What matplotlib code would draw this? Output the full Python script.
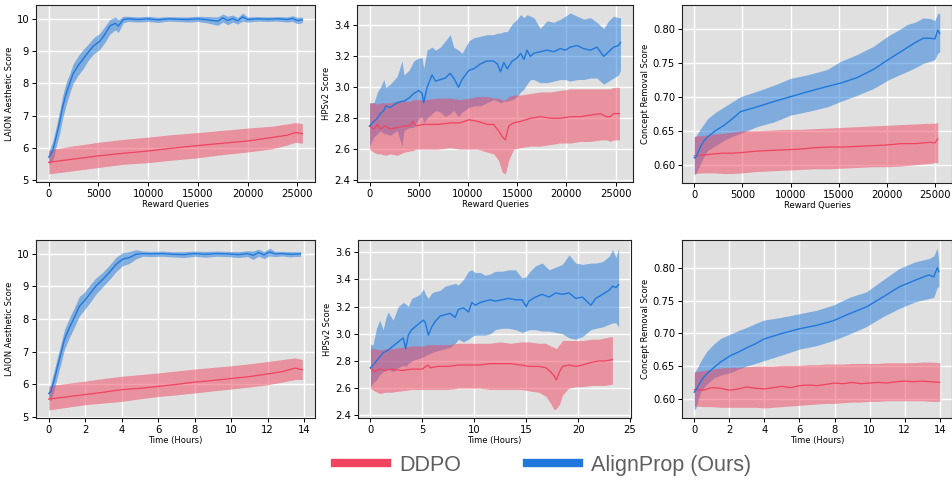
import matplotlib
matplotlib.use('Agg')
import matplotlib.pyplot as plt
from matplotlib.lines import Line2D
import numpy as np

# ---- panel 1: LAION aesthetic vs reward queries
p1_ap_x = [0, 400, 750, 1100, 1400, 1750, 2100, 2450, 2950, 3450, 3950, 4500, 5150, 5650, 6150, 6700, 7000,
           7500, 8000, 9000, 10000, 11000, 12000, 13000, 14000, 15000, 16000, 17000, 17500, 18000, 18500,
           19000, 19500, 20000, 21000, 22000, 23000, 24000, 24500, 25000, 25500]
p1_ap_mean = [5.72, 5.90, 6.35, 6.80, 7.27, 7.68, 7.99, 8.30, 8.55, 8.75, 8.96, 9.16, 9.31, 9.52, 9.78, 9.86, 9.78,
              9.98, 10.00, 9.98, 10.00, 9.97, 10.00, 9.99, 9.98, 10.00, 9.97, 9.93, 10.03, 9.95, 10.01,
              9.94, 10.06, 9.98, 10.00, 9.99, 10.00, 9.98, 10.01, 9.95, 9.97]
p1_ap_lo = [5.50, 5.60, 6.05, 6.45, 6.92, 7.33, 7.69, 8.00, 8.25, 8.45, 8.71, 8.91, 9.06, 9.27, 9.53, 9.66, 9.58,
            9.88, 9.92, 9.90, 9.92, 9.89, 9.93, 9.92, 9.90, 9.92, 9.87, 9.80, 9.90, 9.82, 9.90,
            9.84, 9.93, 9.90, 9.93, 9.92, 9.93, 9.90, 9.92, 9.85, 9.88]
p1_ap_hi = [5.90, 6.20, 6.65, 7.15, 7.62, 8.03, 8.29, 8.60, 8.85, 9.05, 9.21, 9.41, 9.56, 9.77, 9.98, 10.06, 9.98,
            10.08, 10.08, 10.06, 10.08, 10.05, 10.07, 10.06, 10.06, 10.08, 10.07, 10.06, 10.15, 10.08, 10.12,
            10.04, 10.18, 10.06, 10.07, 10.06, 10.07, 10.06, 10.10, 10.05, 10.06]
p1_dd_x = [0, 2500, 5000, 7500, 10000, 12500, 15000, 17500, 20000, 22500, 24000, 24800, 25500]
p1_dd_mean = [5.56, 5.66, 5.76, 5.84, 5.91, 6.00, 6.08, 6.15, 6.22, 6.33, 6.40, 6.48, 6.45]
p1_dd_lo = [5.20, 5.30, 5.40, 5.50, 5.55, 5.63, 5.70, 5.80, 5.88, 5.98, 6.10, 6.18, 6.15]
p1_dd_hi = [5.94, 6.07, 6.18, 6.27, 6.34, 6.42, 6.48, 6.55, 6.62, 6.68, 6.75, 6.79, 6.76]

# ---- panel 2: HPSv2 vs reward queries
p2_ap_x = [0, 450, 800, 1100, 1450, 1650, 2100, 2800, 3300, 3500, 4000, 4500, 5000, 5350, 5500, 5850, 6350,
           6700, 7200, 7700, 8200, 8550, 9050, 9400, 10100, 10600, 11250, 11900, 12600, 13000, 13300, 13650,
           14000, 14500, 15000, 15350, 15700, 16000, 16350, 16700, 17350, 18050, 18700, 19400, 19900, 20400,
           21100, 21750, 22450, 23100, 23800, 24300, 24800, 25300, 25500]
p2_ap_mean = [2.75, 2.78, 2.80, 2.83, 2.85, 2.88, 2.87, 2.90, 2.91, 2.91, 2.93, 2.96, 2.98, 2.96, 2.90, 3.00, 3.08,
              3.04, 3.05, 3.06, 3.09, 3.06, 3.00, 3.05, 3.11, 3.12, 3.15, 3.17, 3.17, 3.15, 3.10, 3.16,
              3.12, 3.17, 3.19, 3.22, 3.18, 3.24, 3.20, 3.22, 3.23, 3.24, 3.23, 3.25, 3.24, 3.26,
              3.27, 3.25, 3.24, 3.26, 3.20, 3.23, 3.26, 3.27, 3.29]
p2_ap_lo = [2.62, 2.68, 2.70, 2.72, 2.70, 2.70, 2.69, 2.72, 2.62, 2.72, 2.74, 2.74, 2.80, 2.81, 2.77, 2.80, 2.83,
            2.85, 2.84, 2.81, 2.83, 2.85, 2.81, 2.84, 2.87, 2.88, 2.88, 2.90, 2.92, 2.91, 2.90, 2.91,
            2.91, 2.92, 2.94, 2.97, 2.99, 3.02, 3.05, 3.05, 3.03, 3.03, 3.04, 3.05, 3.05, 3.04,
            3.05, 3.05, 3.06, 3.06, 3.02, 3.04, 3.06, 3.08, 3.11]
p2_ap_hi = [2.90, 2.90, 2.97, 3.00, 3.05, 3.00, 3.02, 3.07, 3.17, 3.08, 3.11, 3.17, 3.19, 3.19, 3.12, 3.24, 3.26,
            3.24, 3.26, 3.30, 3.34, 3.26, 3.24, 3.22, 3.30, 3.32, 3.33, 3.34, 3.34, 3.35, 3.35, 3.36,
            3.36, 3.41, 3.44, 3.47, 3.45, 3.47, 3.46, 3.45, 3.38, 3.43, 3.42, 3.44, 3.46, 3.48,
            3.46, 3.44, 3.45, 3.42, 3.38, 3.43, 3.46, 3.45, 3.45]
p2_dd_x = [0, 450, 800, 1100, 1600, 2100, 2800, 3500, 4200, 4400, 4700, 5500, 7000, 8200, 9200, 10100, 11000,
           12000, 12600, 13100, 13500, 13800, 14150, 14650, 15350, 16350, 17350, 18400, 19400, 20400, 21400,
           22400, 23450, 24100, 24450, 24800, 25150, 25400]
p2_dd_mean = [2.75, 2.73, 2.76, 2.73, 2.75, 2.73, 2.74, 2.75, 2.75, 2.78, 2.75, 2.76, 2.76, 2.77, 2.77, 2.79, 2.78,
              2.76, 2.76, 2.72, 2.68, 2.66, 2.75, 2.77, 2.78, 2.80, 2.81, 2.80, 2.80, 2.81, 2.81,
              2.82, 2.83, 2.81, 2.81, 2.83, 2.83, 2.83]
p2_dd_lo = [2.60, 2.58, 2.57, 2.57, 2.56, 2.57, 2.56, 2.58, 2.59, 2.59, 2.60, 2.60, 2.60, 2.61, 2.60, 2.60, 2.60,
            2.58, 2.57, 2.53, 2.45, 2.44, 2.53, 2.60, 2.61, 2.62, 2.62, 2.63, 2.64, 2.64, 2.65,
            2.65, 2.66, 2.66, 2.65, 2.66, 2.66, 2.66]
p2_dd_hi = [2.90, 2.90, 2.89, 2.90, 2.90, 2.90, 2.91, 2.91, 2.91, 2.92, 2.92, 2.92, 2.93, 2.93, 2.92, 2.93, 2.94,
            2.94, 2.93, 2.93, 2.92, 2.92, 2.94, 2.95, 2.95, 2.96, 2.97, 2.97, 2.98, 2.99, 2.99,
            2.99, 2.99, 2.99, 2.99, 3.00, 3.00, 3.00]

# ---- panel 3: concept removal vs reward queries
p3_ap_x = [0, 170, 600, 1000, 1400, 2200, 3100, 4000, 4800, 6500, 8300, 10000, 11700, 13800, 15200, 16900,
           18600, 20200, 21100, 22100, 23000, 23800, 24500, 25000, 25300, 25500]
p3_ap_mean = [0.610, 0.611, 0.625, 0.635, 0.641, 0.650, 0.658, 0.668, 0.678, 0.685, 0.693, 0.700, 0.707, 0.715,
              0.720, 0.728, 0.740, 0.755, 0.763, 0.772, 0.780, 0.786, 0.786, 0.785, 0.798, 0.793]
p3_ap_lo = [0.585, 0.587, 0.600, 0.612, 0.621, 0.628, 0.636, 0.642, 0.646, 0.656, 0.663, 0.673, 0.678, 0.685,
            0.693, 0.702, 0.712, 0.725, 0.731, 0.737, 0.743, 0.749, 0.752, 0.755, 0.764, 0.766]
p3_ap_hi = [0.640, 0.642, 0.652, 0.660, 0.668, 0.677, 0.685, 0.693, 0.700, 0.708, 0.717, 0.727, 0.732, 0.740,
            0.752, 0.762, 0.774, 0.790, 0.797, 0.806, 0.810, 0.816, 0.815, 0.812, 0.823, 0.822]
p3_dd_x = [0, 1000, 2000, 3000, 4000, 5000, 6500, 8000, 9500, 11000, 12500, 14000, 15500, 17000, 18500,
           20000, 21500, 23000, 24500, 25000, 25300]
p3_dd_mean = [0.613, 0.614, 0.616, 0.617, 0.617, 0.618, 0.620, 0.621, 0.622, 0.623, 0.625, 0.626, 0.626, 0.627,
              0.628, 0.629, 0.631, 0.631, 0.633, 0.632, 0.638]
p3_dd_lo = [0.587, 0.588, 0.588, 0.587, 0.587, 0.588, 0.590, 0.591, 0.592, 0.593, 0.594, 0.594, 0.595, 0.596,
            0.597, 0.597, 0.598, 0.600, 0.602, 0.603, 0.603]
p3_dd_hi = [0.642, 0.643, 0.645, 0.646, 0.648, 0.650, 0.650, 0.651, 0.652, 0.652, 0.653, 0.654, 0.655, 0.656,
            0.657, 0.658, 0.659, 0.660, 0.661, 0.661, 0.662]

# ---- panel 4: LAION aesthetic vs time
p4_ap_x = [0, 0.13, 0.31, 0.49, 0.68, 0.86, 1.13, 1.4, 1.68, 1.95, 2.23, 2.59, 2.96, 3.32, 3.69, 4.05, 4.42, 4.78,
           5.15, 5.6, 6.2, 6.8, 7.4, 8.0, 8.6, 9.2, 9.8, 10.4, 10.9, 11.2, 11.5, 11.8, 12.1, 12.4, 12.8, 13.2, 13.8]
p4_ap_mean = [5.72, 5.79, 6.15, 6.56, 6.96, 7.37, 7.73, 8.04, 8.39, 8.55, 8.75, 9.01, 9.21, 9.42, 9.67, 9.83, 9.88,
              9.98, 10.0, 9.99, 10.0, 9.98, 9.97, 10.0, 9.98, 10.0, 9.99, 9.97, 10.0, 9.95, 10.03, 9.96, 10.05,
              9.99, 10.0, 9.98, 9.99]
p4_ap_lo = [5.55, 5.50, 5.85, 6.26, 6.66, 7.07, 7.43, 7.74, 8.09, 8.28, 8.48, 8.76, 8.99, 9.20, 9.45, 9.63, 9.70,
            9.84, 9.92, 9.91, 9.92, 9.90, 9.88, 9.92, 9.89, 9.92, 9.91, 9.88, 9.91, 9.82, 9.92, 9.85, 9.93,
            9.91, 9.93, 9.90, 9.92]
p4_ap_hi = [5.85, 6.05, 6.45, 6.86, 7.26, 7.67, 8.03, 8.34, 8.69, 8.82, 9.02, 9.26, 9.43, 9.64, 9.89, 10.03, 10.06,
            10.12, 10.08, 10.07, 10.08, 10.06, 10.06, 10.08, 10.07, 10.08, 10.07, 10.06, 10.09, 10.08, 10.14,
            10.06, 10.17, 10.07, 10.07, 10.06, 10.06]
p4_dd_x = [0, 1, 2, 3, 4, 5, 6, 7, 8, 9, 10, 11, 12, 12.8, 13.5, 13.9]
p4_dd_mean = [5.55, 5.62, 5.69, 5.76, 5.84, 5.88, 5.94, 6.00, 6.07, 6.12, 6.18, 6.24, 6.32, 6.39, 6.50, 6.45]
p4_dd_lo = [5.22, 5.30, 5.38, 5.43, 5.48, 5.56, 5.63, 5.68, 5.74, 5.80, 5.86, 5.92, 5.99, 6.07, 6.15, 6.15]
p4_dd_hi = [5.96, 6.03, 6.10, 6.18, 6.25, 6.30, 6.35, 6.41, 6.47, 6.52, 6.57, 6.63, 6.70, 6.76, 6.81, 6.76]

# ---- panel 5: HPSv2 vs time
p5_ap_x = [0, 0.26, 0.58, 0.9, 1.23, 1.5, 1.71, 2.19, 2.68, 3.16, 3.39, 3.65, 3.97, 4.29, 4.77, 5.1, 5.3, 5.58,
           5.9, 6.23, 6.71, 7.19, 7.68, 8.16, 8.48, 8.97, 9.45, 9.77, 10.1, 10.58, 11.06, 11.55, 12.03, 12.68,
           13.32, 13.97, 14.6, 15.0, 15.26, 15.9, 16.55, 17.2, 17.84, 18.48, 19.13, 19.77, 20.42, 21.23, 21.7,
           22.35, 23.0, 23.32, 23.65, 23.9]
p5_ap_mean = [2.75, 2.77, 2.80, 2.83, 2.86, 2.87, 2.88, 2.91, 2.94, 2.97, 2.89, 2.99, 3.03, 3.05, 3.08, 3.10, 3.08,
              2.99, 3.05, 3.09, 3.13, 3.14, 3.15, 3.12, 3.18, 3.19, 3.16, 3.23, 3.21, 3.23, 3.24, 3.25, 3.24,
              3.25, 3.26, 3.25, 3.25, 3.20, 3.24, 3.27, 3.29, 3.27, 3.30, 3.29, 3.30, 3.26, 3.27, 3.21, 3.26,
              3.29, 3.32, 3.35, 3.34, 3.36]
p5_ap_lo = [2.61, 2.64, 2.66, 2.70, 2.72, 2.73, 2.74, 2.72, 2.75, 2.77, 2.76, 2.78, 2.80, 2.81, 2.82, 2.83, 2.84,
            2.85, 2.86, 2.87, 2.88, 2.89, 2.90, 2.93, 2.96, 2.94, 2.96, 2.98, 2.99, 2.99, 2.99, 3.00, 3.03,
            3.04, 3.04, 3.03, 3.01, 3.02, 3.03, 3.03, 3.02, 3.02, 3.01, 3.00, 2.97, 2.96, 2.98, 3.03, 3.04,
            3.05, 3.07, 3.08, 3.08, 3.05]
p5_ap_hi = [2.92, 2.92, 3.04, 3.10, 3.03, 3.12, 3.16, 3.10, 3.20, 3.23, 3.22, 3.20, 3.26, 3.27, 3.29, 3.33, 3.29,
            3.26, 3.30, 3.31, 3.32, 3.35, 3.36, 3.37, 3.36, 3.40, 3.46, 3.47, 3.45, 3.45, 3.43, 3.44, 3.46,
            3.46, 3.47, 3.47, 3.41, 3.42, 3.45, 3.50, 3.52, 3.47, 3.49, 3.51, 3.58, 3.52, 3.51, 3.52, 3.52,
            3.53, 3.57, 3.62, 3.56, 3.63]
p5_dd_x = [0, 0.4, 0.9, 1.4, 2.0, 3.0, 4.0, 5.0, 5.5, 5.8, 6.5, 7.5, 8.5, 9.5, 10.5, 11.5, 12.5, 13.5, 14.5,
           15.3, 16.2, 16.9, 17.35, 17.7, 17.9, 18.2, 18.5, 19.1, 19.8, 20.4, 21.3, 22.0, 22.6, 23.3]
p5_dd_mean = [2.75, 2.72, 2.74, 2.73, 2.74, 2.73, 2.74, 2.74, 2.77, 2.75, 2.76, 2.76, 2.77, 2.77, 2.77, 2.78,
              2.78, 2.78, 2.77, 2.76, 2.76, 2.75, 2.72, 2.69, 2.66, 2.72, 2.76, 2.77, 2.76, 2.77, 2.79, 2.80,
              2.80, 2.81]
p5_dd_lo = [2.60, 2.58, 2.56, 2.57, 2.57, 2.58, 2.59, 2.59, 2.59, 2.59, 2.59, 2.59, 2.60, 2.60, 2.60, 2.59,
            2.59, 2.59, 2.59, 2.58, 2.57, 2.54, 2.49, 2.44, 2.45, 2.48, 2.55, 2.60, 2.61, 2.61, 2.62, 2.62,
            2.62, 2.63]
p5_dd_hi = [2.89, 2.89, 2.88, 2.89, 2.89, 2.90, 2.91, 2.91, 2.92, 2.92, 2.92, 2.92, 2.93, 2.93, 2.93, 2.93,
            2.94, 2.93, 2.94, 2.94, 2.93, 2.93, 2.91, 2.90, 2.89, 2.92, 2.95, 2.95, 2.95, 2.95, 2.96, 2.96,
            2.97, 2.98]

# ---- panel 6: concept removal vs time
p6_ap_x = [0, 0.09, 0.38, 0.7, 1.13, 1.5, 2.07, 2.5, 3.0, 3.5, 3.96, 4.9, 6.03, 6.97, 7.92, 8.86, 9.8, 10.74,
           11.7, 12.6, 13.38, 13.66, 13.86, 13.95]
p6_ap_mean = [0.610, 0.613, 0.627, 0.638, 0.648, 0.656, 0.666, 0.671, 0.678, 0.684, 0.691, 0.699, 0.707, 0.712,
              0.719, 0.730, 0.740, 0.755, 0.771, 0.781, 0.789, 0.786, 0.800, 0.794]
p6_ap_lo = [0.583, 0.586, 0.612, 0.622, 0.632, 0.636, 0.640, 0.645, 0.650, 0.654, 0.658, 0.666, 0.676, 0.681,
            0.689, 0.699, 0.710, 0.725, 0.738, 0.748, 0.753, 0.755, 0.770, 0.771]
p6_ap_hi = [0.640, 0.643, 0.658, 0.672, 0.684, 0.692, 0.699, 0.704, 0.709, 0.715, 0.720, 0.724, 0.730, 0.735,
            0.743, 0.755, 0.763, 0.781, 0.799, 0.809, 0.814, 0.818, 0.830, 0.807]
p6_dd_x = [0, 0.5, 1.0, 1.5, 2.0, 2.5, 3.0, 3.5, 4.0, 4.5, 5.0, 5.5, 6.0, 6.5, 7.0, 7.5, 8.0, 8.5, 9.0, 9.5,
           10.0, 10.5, 11.0, 11.5, 12.0, 12.5, 13.0, 13.5, 14.0]
p6_dd_mean = [0.614, 0.613, 0.617, 0.616, 0.613, 0.615, 0.618, 0.616, 0.615, 0.617, 0.619, 0.617, 0.620, 0.621,
              0.620, 0.622, 0.624, 0.623, 0.625, 0.623, 0.624, 0.625, 0.624, 0.626, 0.627, 0.626, 0.627, 0.626,
              0.625]
p6_dd_lo = [0.589, 0.588, 0.588, 0.587, 0.587, 0.587, 0.587, 0.587, 0.586, 0.587, 0.588, 0.589, 0.590, 0.591,
            0.592, 0.593, 0.593, 0.594, 0.595, 0.595, 0.596, 0.596, 0.597, 0.597, 0.597, 0.597, 0.597, 0.596,
            0.596]
p6_dd_hi = [0.641, 0.643, 0.645, 0.647, 0.648, 0.648, 0.649, 0.650, 0.650, 0.650, 0.651, 0.651, 0.651, 0.652,
            0.652, 0.653, 0.653, 0.653, 0.654, 0.654, 0.654, 0.654, 0.655, 0.655, 0.655, 0.655, 0.656, 0.656,
            0.655]

RED = '#f0435f'
BLUE = '#1f78dc'
BG = '#e0e0e0'


def panel(ax, ap, dd, xlabel, ylabel):
    ax.set_facecolor(BG)
    ax.grid(True, color='white', lw=1.0)
    ax.set_axisbelow(True)
    # bands first: blue, then red over it (gives the mauve overlap)
    ax.fill_between(ap[0], ap[2], ap[3], color=BLUE, alpha=0.5, lw=0)
    ax.fill_between(dd[0], dd[2], dd[3], color=RED, alpha=0.5, lw=0)
    ax.plot(dd[0], dd[1], color=RED, lw=0.9)
    ax.plot(ap[0], ap[1], color=BLUE, lw=1.0)
    ax.set_xlabel(xlabel, fontsize=6, labelpad=1)
    ax.set_ylabel(ylabel, fontsize=6, labelpad=2)
    ax.tick_params(labelsize=7.2, length=3, width=0.7, pad=2)
    for s in ax.spines.values():
        s.set_color('#222222')
        s.set_linewidth(0.8)


fig = plt.figure(figsize=(9.53, 4.8), dpi=100)
W, H = 953.0, 480.0


def box(l, r, t, b):
    return [l / W, (H - b) / H, (r - l) / W, (b - t) / H]


ax1 = fig.add_axes(box(36, 315, 5, 182))
ax2 = fig.add_axes(box(357, 633, 5, 182))
ax3 = fig.add_axes(box(682, 952, 5, 183))
ax4 = fig.add_axes(box(36, 315, 240, 418))
ax5 = fig.add_axes(box(358, 631, 240, 418))
ax6 = fig.add_axes(box(682, 952, 240, 418))

panel(ax1, (p1_ap_x, p1_ap_mean, p1_ap_lo, p1_ap_hi), (p1_dd_x, p1_dd_mean, p1_dd_lo, p1_dd_hi),
      'Reward Queries', 'LAION Aesthetic Score')
panel(ax2, (p2_ap_x, p2_ap_mean, p2_ap_lo, p2_ap_hi), (p2_dd_x, p2_dd_mean, p2_dd_lo, p2_dd_hi),
      'Reward Queries', 'HPSv2 Score')
panel(ax3, (p3_ap_x, p3_ap_mean, p3_ap_lo, p3_ap_hi), (p3_dd_x, p3_dd_mean, p3_dd_lo, p3_dd_hi),
      'Reward Queries', 'Concept Removal Score')
panel(ax4, (p4_ap_x, p4_ap_mean, p4_ap_lo, p4_ap_hi), (p4_dd_x, p4_dd_mean, p4_dd_lo, p4_dd_hi),
      'Time (Hours)', 'LAION Aesthetic Score')
panel(ax5, (p5_ap_x, p5_ap_mean, p5_ap_lo, p5_ap_hi), (p5_dd_x, p5_dd_mean, p5_dd_lo, p5_dd_hi),
      'Time (Hours)', 'HPSv2 Score')
panel(ax6, (p6_ap_x, p6_ap_mean, p6_ap_lo, p6_ap_hi), (p6_dd_x, p6_dd_mean, p6_dd_lo, p6_dd_hi),
      'Time (Hours)', 'Concept Removal Score')

for ax in (ax1, ax2, ax3):
    ax.set_xticks([0, 5000, 10000, 15000, 20000, 25000])
for ax in (ax1, ax4):
    ax.set_yticks([5, 6, 7, 8, 9, 10])
for ax in (ax2, ax5):
    ax.yaxis.set_major_formatter(matplotlib.ticker.FormatStrFormatter('%.1f'))
for ax in (ax3, ax6):
    ax.set_yticks([0.60, 0.65, 0.70, 0.75, 0.80])
    ax.yaxis.set_major_formatter(matplotlib.ticker.FormatStrFormatter('%.2f'))
ax4.set_xticks([0, 2, 4, 6, 8, 10, 12, 14])
ax6.set_xticks([0, 2, 4, 6, 8, 10, 12, 14])
ax5.set_xticks([0, 5, 10, 15, 20, 25])

handles = [Line2D([], [], color=RED, lw=6), Line2D([], [], color=BLUE, lw=6)]
leg = fig.legend(handles, ['DDPO', 'AlignProp (Ours)'], loc='center', bbox_to_anchor=(0.570, 0.031),
                 ncol=2, frameon=False, handlelength=2.4, handletextpad=0.55, columnspacing=3.1,
                 prop={'family': 'Liberation Sans', 'size': 15.5})
for t in leg.get_texts():
    t.set_color('#5f5f5f')

fig.savefig('out.png', dpi=100)
